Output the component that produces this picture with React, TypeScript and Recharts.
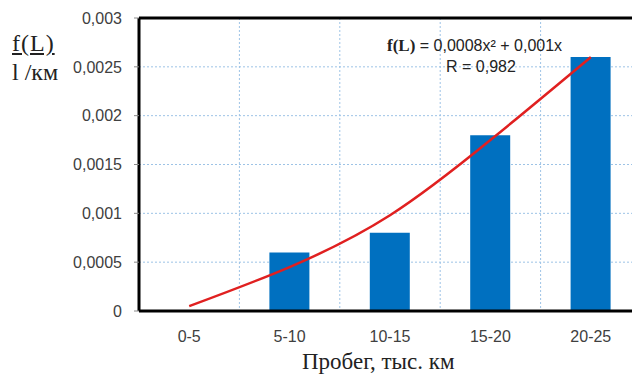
import React from 'react';
import {
  ComposedChart, Bar, Line, XAxis, YAxis, CartesianGrid, ReferenceLine,
} from 'recharts';

const CATEGORIES = ['0-5', '5-10', '10-15', '15-20', '20-25'];
const FREQ = [0, 0.0006, 0.0008, 0.0018, 0.0026];
const TREND = [0.00005, 0.00045, 0.00098, 0.00175, 0.0026];
const Y_TICKS = [0, 0.0005, 0.001, 0.0015, 0.002, 0.0025, 0.003];

const data = CATEGORIES.map((c, i) => ({ range: c, f: FREQ[i], trend: TREND[i] }));

const SANS = '"Liberation Sans", Arial, sans-serif';
const SERIF = '"Liberation Serif", "Times New Roman", serif';
const GRID = '#9dc3e6';

const fmt = (v: number) => String(v).replace('.', ',');

export default function App() {
  return (
    <div style={{ position: 'fixed', left: 0, top: 0, width: 632, height: 380, overflow: 'hidden', background: '#fff' }}>
      <ComposedChart
        width={660}
        height={380}
        data={data}
        margin={{ top: 18, right: 19, bottom: 39, left: 59 }}
      >
        <CartesianGrid
          stroke={GRID}
          strokeDasharray="2 2"
          verticalCoordinatesGenerator={({ offset }: any) =>
            [1, 2, 3, 4].map(i => offset.left + (i * offset.width) / CATEGORIES.length)
          }
        />
        <XAxis
          dataKey="range"
          height={30}
          axisLine={{ stroke: '#000', strokeWidth: 3 }}
          tickLine={false}
          tickMargin={14}
          tick={{ fontSize: 16, fill: '#404040', fontFamily: SANS }}
        />
        <YAxis
          width={80}
          domain={[0, 0.003]}
          ticks={Y_TICKS}
          tickFormatter={fmt}
          axisLine={{ stroke: '#000', strokeWidth: 3 }}
          tickLine={{ stroke: '#888' }}
          tickSize={5}
          tickMargin={12}
          tick={{ fontSize: 16, fill: '#404040', fontFamily: SANS }}
        />
        <ReferenceLine y={0.003} stroke="#000" strokeWidth={3} />
        <Bar dataKey="f" fill="#0070c0" barSize={40} isAnimationActive={false} />
        <Line
          dataKey="trend"
          type="natural"
          stroke="#e02020"
          strokeWidth={2.5}
          dot={false}
          isAnimationActive={false}
        />
      </ComposedChart>

      <div style={{ position: 'absolute', left: 12, top: 30, fontFamily: SERIF, fontSize: 24, color: '#222', lineHeight: '27px' }}>
        <div style={{ textDecoration: 'underline', letterSpacing: 1 }}>f(L)</div>
        <div style={{ marginTop: 2 }}>l /км</div>
      </div>

      <div style={{ position: 'absolute', left: 387, top: 36, fontSize: 16, color: '#222', whiteSpace: 'nowrap', fontFamily: SANS }}>
        <span style={{ fontFamily: SERIF, fontSize: 17, fontWeight: 'bold' }}>f(L)</span> = 0,0008x² + 0,001x
      </div>
      <div style={{ position: 'absolute', left: 446, top: 58, fontSize: 16, color: '#222', fontFamily: SANS }}>
        R = 0,982
      </div>

      <div style={{ position: 'absolute', left: 302, top: 349, fontFamily: SERIF, fontSize: 23, color: '#222', whiteSpace: 'nowrap' }}>
        Пробег, тыс. км
      </div>
    </div>
  );
}
